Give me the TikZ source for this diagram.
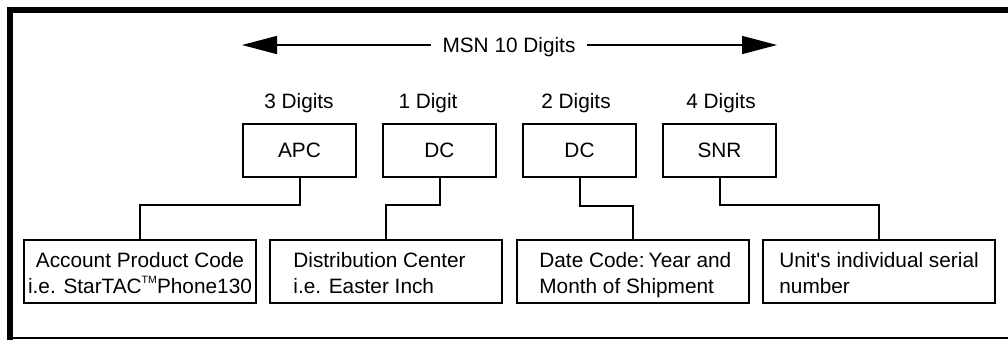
\documentclass[tikz,border=0pt]{standalone}
\usepackage{fontspec}
\setmainfont{Liberation Sans}[Ligatures=TeXOff]
\usetikzlibrary{arrows.meta}
\newcommand{\tmsign}{\raisebox{0.95ex}{\fontsize{5.3}{5.3}\selectfont TM}}
\begin{document}
\begin{tikzpicture}[x=0.5pt,y=-0.5pt,
  txt/.style={font=\fontsize{10.4}{13.3}\selectfont, inner sep=0pt},
  smallbox/.style={draw, line width=1pt, minimum width=56.5pt, minimum height=26.5pt, inner sep=0pt, font=\fontsize{10.4}{13.3}\selectfont},
  bigbox/.style={draw, line width=1pt, minimum width=116pt, minimum height=31.5pt, inner sep=0pt},
  conn/.style={line width=1pt},
  heading/.style={line width=0.75pt, -{Triangle[length=17.5pt,width=9pt]}}
]
\useasboundingbox (0,0) rectangle (1008,339);
% frame
\draw[line width=3pt, line join=miter] (1010,10) -- (10,10) -- (10,341);
\draw[line width=0.8pt] (10,338.2) -- (1010,338.2);

% heading
\coordinate (L) at (242,45);
\coordinate (R) at (777,45);
\node[txt, inner xsep=5.5pt, text height=7.45pt, text depth=0pt] (msn) at (509,45) {MSN 10 Digits};
\draw[heading] (msn.west) -- (L);
\draw[heading] (msn.east) -- (R);

% digit labels
\node[txt, anchor=base] (l1) at (299,108.5) {3 Digits};
\node[txt, anchor=base] (l2) at (428,108.5) {1 Digit};
\node[txt, anchor=base] (l3) at (576,108.5) {2 Digits};
\node[txt, anchor=base] (l4) at (721,108.5) {4 Digits};

% code boxes
\node[smallbox] (apc) at (299.5,150.5) {APC};
\node[smallbox] (dca) at (439.5,150.5) {DC};
\node[smallbox] (dcb) at (579.5,150.5) {DC};
\node[smallbox] (snr) at (719.5,150.5) {SNR};

% description boxes
\node[bigbox] (b1) at (140,271.5) {};
\node[bigbox] (b2) at (386,271.5) {};
\node[bigbox] (b3) at (632.5,271.5) {};
\node[bigbox] (b4) at (878.5,271.5) {};

\node[txt, anchor=base] (t1) at (140,267) {\begin{tabular}[t]{@{}c@{}}Account Product Code\\i.e. StarTAC\tmsign Phone130\end{tabular}};
\node[txt, anchor=base west] (t2) at (293,267) {\begin{tabular}[t]{@{}l@{}}Distribution Center\\i.e. Easter Inch\end{tabular}};
\node[txt, anchor=base west] (t3) at (539,267) {\begin{tabular}[t]{@{}l@{}}Date Code:\hspace{0.2em}Year and\\Month of Shipment\end{tabular}};
\node[txt, anchor=base west] (t4) at (779,267) {\begin{tabular}[t]{@{}l@{}}Unit's individual serial\\number\end{tabular}};

% connectors
\draw[conn] (apc.south) -- ++(0,27) -| (b1.north);
\draw[conn] (dca.south) -- ++(0,27) -| (b2.north);
\draw[conn] (dcb.south) -- ++(0,28) -| (b3.north);
\draw[conn] (snr.south) -- ++(0,27) -| (b4.north);
\end{tikzpicture}
\end{document}
